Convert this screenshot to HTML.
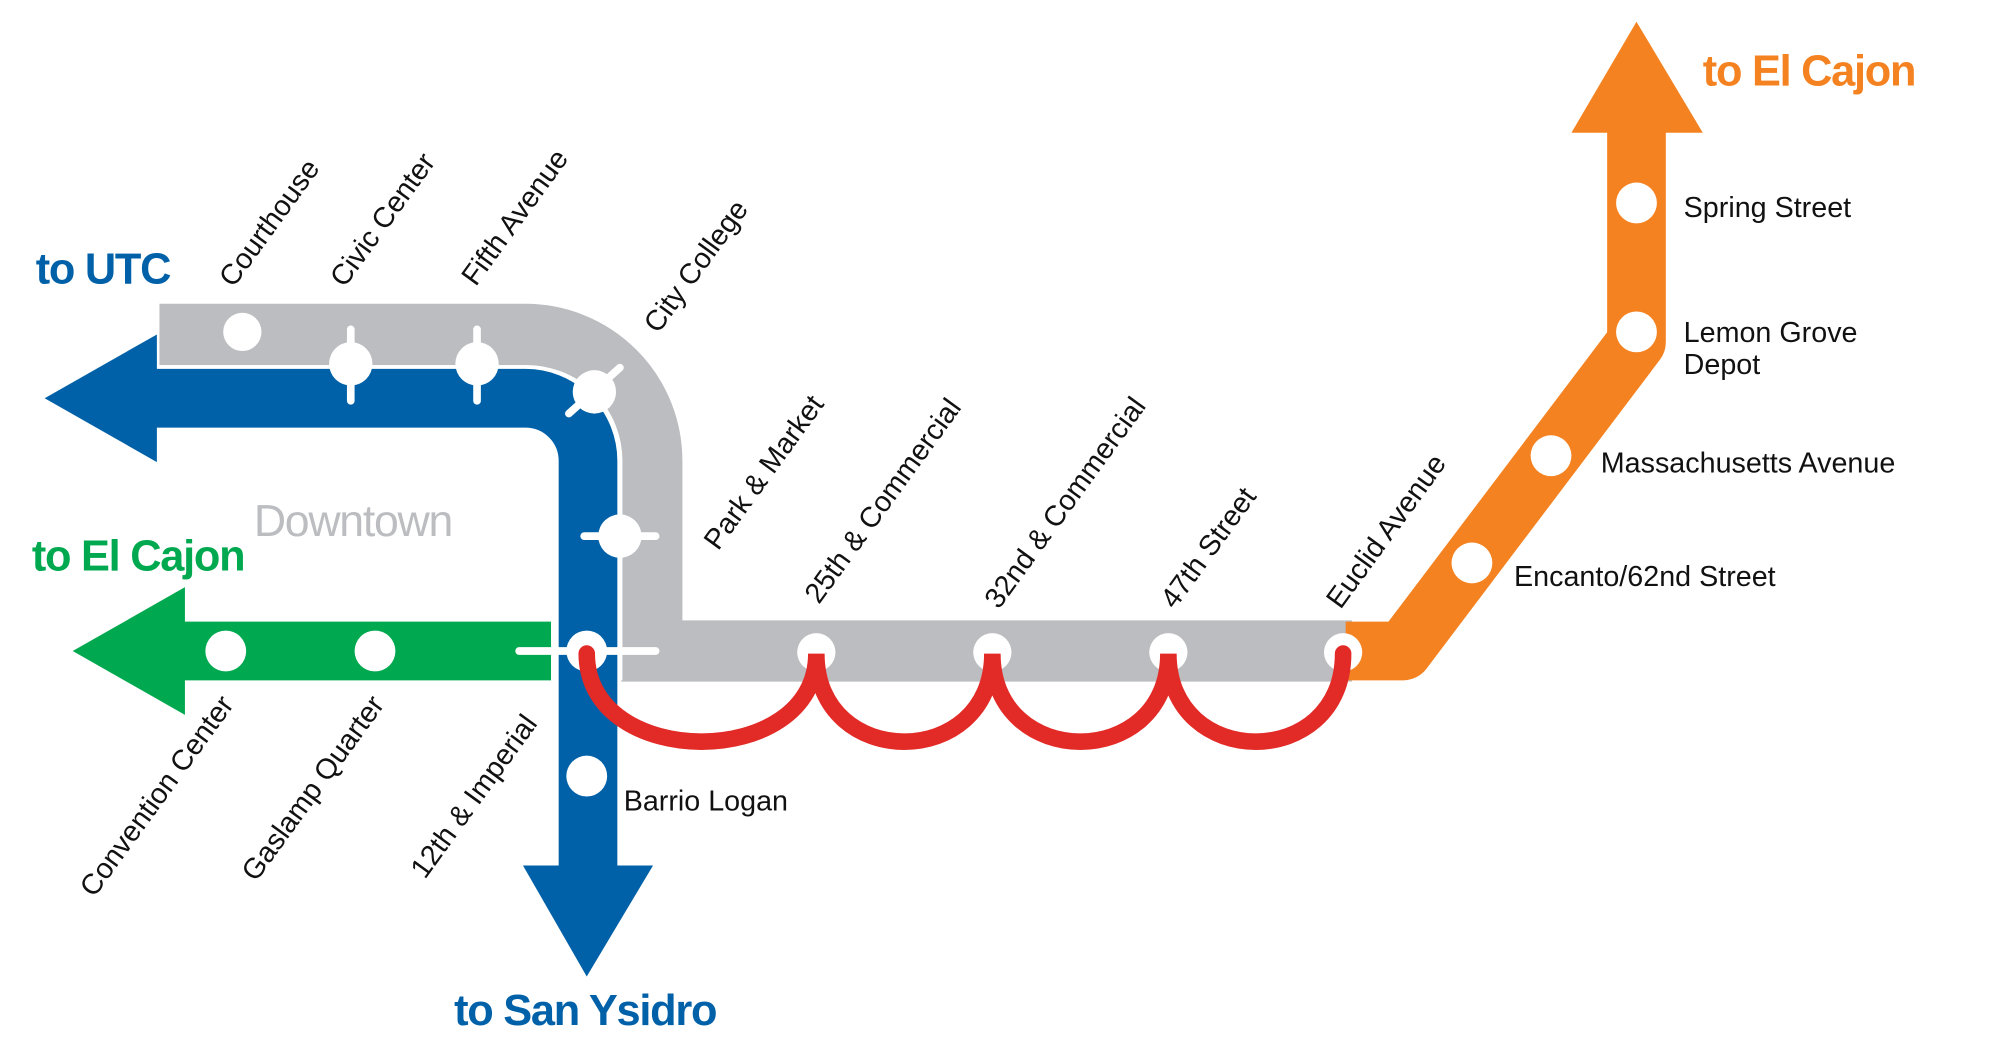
<!DOCTYPE html>
<html><head><meta charset="utf-8"><style>
html,body{margin:0;padding:0;background:#fff;}
svg{display:block}
text{font-family:"Liberation Sans",sans-serif;}
.s{font-size:22.5px;fill:#111;}
.b{font-weight:bold;font-size:34px;letter-spacing:-1px}
</style></head><body>
<svg width="2000" height="1048" viewBox="0 0 1568 821" preserveAspectRatio="none" xmlns="http://www.w3.org/2000/svg">
<path d="M125,262 H412 A99,99 0 0 1 511,361 V510 H1060" fill="none" stroke="#bcbdc0" stroke-width="48"/>
<path d="M123,288 H412 A73,73 0 0 1 486,361 V533" fill="none" stroke="#fff" stroke-width="4"/>
<path d="M1055,510 H1100 L1283,268 V100" fill="none" stroke="#f58220" stroke-width="46" stroke-linejoin="round"/>
<path d="M1232,104 L1283,17 L1335,104 Z" fill="#f58220"/>
<path d="M120,312 H412 A49,49 0 0 1 461,361 V682" fill="none" stroke="#0061a8" stroke-width="46"/>
<path d="M123,262 L35,312 L123,362 Z" fill="#0061a8"/>
<path d="M410,678 L512,678 L460,765 Z" fill="#0061a8"/>
<path d="M140,510 H432" fill="none" stroke="#00a94f" stroke-width="46"/>
<path d="M145,460 L57,510 L145,560 Z" fill="#00a94f"/>
<g stroke="#fff" stroke-width="6" stroke-linecap="round">
<line x1="275" y1="258" x2="275" y2="314"/>
<line x1="374" y1="258" x2="374" y2="314"/>
<line x1="446" y1="324" x2="486" y2="288"/>
<line x1="458" y1="420" x2="514" y2="420"/>
<line x1="407" y1="510" x2="514" y2="510"/>
</g>
<g fill="#fff">
<circle cx="190" cy="260" r="15"/>
<circle cx="275" cy="285" r="17"/>
<circle cx="374" cy="285" r="17"/>
<circle cx="466" cy="307" r="17"/>
<circle cx="486" cy="420" r="17"/>
<circle cx="460" cy="510" r="16"/>
<circle cx="177" cy="510" r="16"/>
<circle cx="294" cy="510" r="16"/>
<circle cx="460" cy="608" r="16"/>
<circle cx="640" cy="511" r="15"/>
<circle cx="778" cy="511" r="15"/>
<circle cx="916" cy="511" r="15"/>
<circle cx="1053" cy="511" r="15"/>
<circle cx="1283" cy="159" r="16"/>
<circle cx="1283" cy="260" r="16"/>
<circle cx="1216" cy="357" r="16"/>
<circle cx="1154" cy="441" r="16"/>
</g>
<path d="M460,512 C460,604 640,604 640,512 C640,604 778,604 778,512 C778,604 916,604 916,512 C916,604 1053,604 1053,512" fill="none" stroke="#e22a27" stroke-width="13" stroke-linecap="round"/>
<g class="s">
<text transform="translate(183,226) rotate(-54)">Courthouse</text>
<text transform="translate(270,226) rotate(-54)">Civic Center</text>
<text transform="translate(373,225) rotate(-54)">Fifth Avenue</text>
<text transform="translate(516,262) rotate(-54)">City College</text>
<text transform="translate(563,432) rotate(-54)">Park &amp; Market</text>
<text transform="translate(642,474) rotate(-54)">25th &amp; Commercial</text>
<text transform="translate(783,478) rotate(-54)">32nd &amp; Commercial</text>
<text transform="translate(921,478) rotate(-54)">47th Street</text>
<text transform="translate(1051,478) rotate(-54)">Euclid Avenue</text>
<text text-anchor="end" transform="translate(184,552) rotate(-54)">Convention Center</text>
<text text-anchor="end" transform="translate(302,552) rotate(-54)">Gaslamp Quarter</text>
<text text-anchor="end" transform="translate(422,567) rotate(-54)">12th &amp; Imperial</text>
<text x="1320" y="170">Spring Street</text>
<text x="1320" y="268">Lemon Grove</text>
<text x="1320" y="293">Depot</text>
<text x="1255" y="370">Massachusetts Avenue</text>
<text x="1187" y="459">Encanto/62nd Street</text>
<text x="489" y="635">Barrio Logan</text>
</g>
<text x="199" y="420" style="font-size:35px;fill:#bcbdc0;letter-spacing:-1px">Downtown</text>
<text class="b" x="28" y="222" fill="#0061a8">to UTC</text>
<text class="b" x="25" y="447" fill="#00a94f">to El Cajon</text>
<text class="b" x="1335" y="67" fill="#f58220">to El Cajon</text>
<text class="b" x="356" y="803" fill="#0061a8">to San Ysidro</text>
</svg>
</body></html>
